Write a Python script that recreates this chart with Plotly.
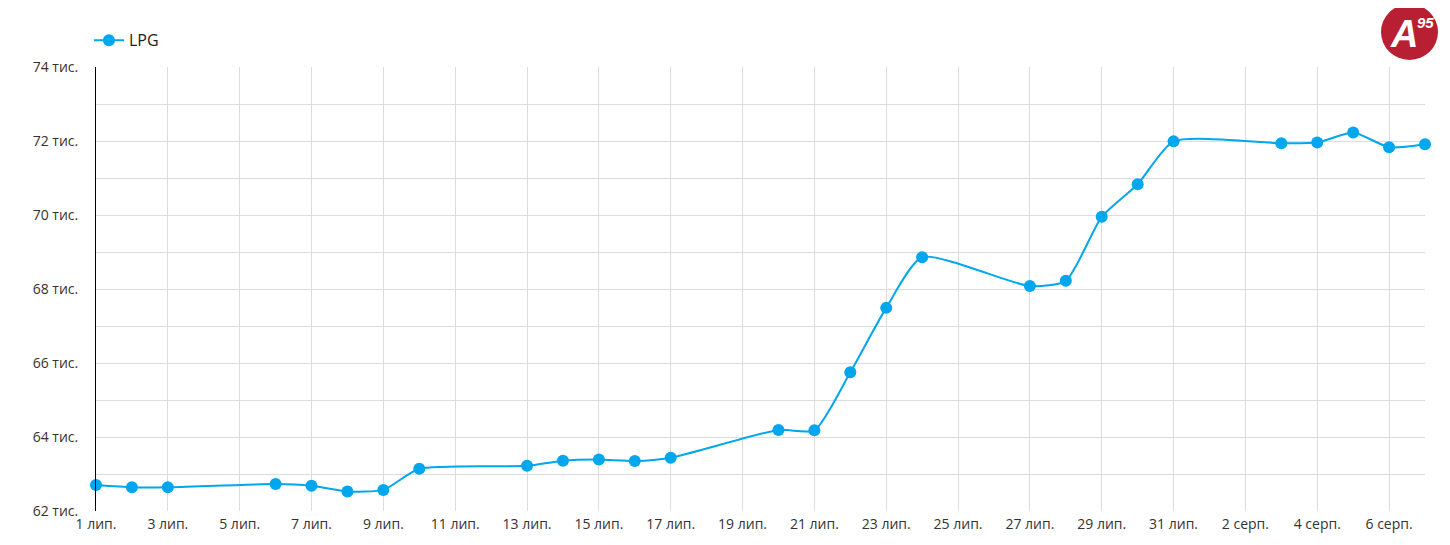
import plotly.graph_objects as go

# LPG price, UAH (daily points, gaps on missing days)
dates = [
    "2024-07-01", "2024-07-02", "2024-07-03", "2024-07-06", "2024-07-07",
    "2024-07-08", "2024-07-09", "2024-07-10", "2024-07-13", "2024-07-14",
    "2024-07-15", "2024-07-16", "2024-07-17", "2024-07-20", "2024-07-21",
    "2024-07-22", "2024-07-23", "2024-07-24", "2024-07-27", "2024-07-28",
    "2024-07-29", "2024-07-30", "2024-07-31", "2024-08-03", "2024-08-04",
    "2024-08-05", "2024-08-06", "2024-08-07",
]
lpg = [
    62700, 62640, 62640, 62730, 62680,
    62530, 62570, 63140, 63220, 63360,
    63390, 63350, 63440, 64190, 64180,
    65750, 67490, 68860, 68080, 68220,
    69950, 70830, 71990, 71940, 71960,
    72230, 71830, 71910,
]

tick_dates = [
    "2024-07-01", "2024-07-03", "2024-07-05", "2024-07-07", "2024-07-09",
    "2024-07-11", "2024-07-13", "2024-07-15", "2024-07-17", "2024-07-19",
    "2024-07-21", "2024-07-23", "2024-07-25", "2024-07-27", "2024-07-29",
    "2024-07-31", "2024-08-02", "2024-08-04", "2024-08-06",
]
tick_text = [
    "1 лип.", "3 лип.", "5 лип.", "7 лип.", "9 лип.", "11 лип.", "13 лип.",
    "15 лип.", "17 лип.", "19 лип.", "21 лип.", "23 лип.", "25 лип.",
    "27 лип.", "29 лип.", "31 лип.", "2 серп.", "4 серп.", "6 серп.",
]
y_ticks = [62000, 64000, 66000, 68000, 70000, 72000, 74000]
y_text = ["62 тис.", "64 тис.", "66 тис.", "68 тис.", "70 тис.", "72 тис.", "74 тис."]

BLUE = "#00a6ee"
GRID = "#dcdcdc"
LOGO_RED = "#b81f33"

fig = go.Figure()
fig.add_trace(
    go.Scatter(
        x=dates,
        y=lpg,
        mode="lines+markers",
        name="LPG",
        line=dict(color=BLUE, width=2, shape="spline", smoothing=0.6),
        marker=dict(color=BLUE, size=12),
        cliponaxis=False,
    )
)

# the page body adds an 8px offset, margins below account for it
fig.update_layout(
    width=1450,
    height=545,
    margin=dict(l=88, r=33, t=59, b=42, autoexpand=False),
    paper_bgcolor="white",
    plot_bgcolor="white",
    font=dict(family="Open Sans, Lato, sans-serif", size=14, color="#333333"),
    showlegend=True,
    legend=dict(
        orientation="h",
        x=-0.0053,
        y=0.972,
        xref="paper",
        yref="container",
        xanchor="left",
        yanchor="top",
        font=dict(size=16, color="#222222"),
    ),
    xaxis=dict(
        type="date",
        range=["2024-07-01", "2024-08-07"],
        tickvals=tick_dates,
        ticktext=tick_text,
        showgrid=True,
        gridcolor=GRID,
        gridwidth=1,
        zeroline=False,
        showline=False,
        ticks="",
        ticklabelstandoff=3,
    ),
    yaxis=dict(
        range=[62000, 74000],
        tickvals=y_ticks,
        ticktext=y_text,
        minor=dict(dtick=1000, showgrid=True, gridcolor=GRID, gridwidth=1),
        showgrid=True,
        gridcolor=GRID,
        gridwidth=1,
        zeroline=False,
        showline=True,
        linecolor="#000000",
        linewidth=1,
        ticks="",
        ticklabelstandoff=14,
    ),
)

# logo badge in the top right corner
fig.add_shape(
    type="circle",
    xref="paper", yref="paper",
    xsizemode="pixel", ysizemode="pixel",
    xanchor=1.0, yanchor=1.0,
    x0=-44, x1=13, y0=7, y1=63,
    fillcolor=LOGO_RED,
    line=dict(width=0),
)
fig.add_annotation(
    xref="paper", yref="paper",
    x=1.0, y=1.0,
    xanchor="center", yanchor="middle",
    xshift=-21, yshift=33,
    text="A",
    showarrow=False,
    font=dict(family="Liberation Sans", size=38, color="white",
              weight="bold", style="italic"),
)
fig.add_annotation(
    xref="paper", yref="paper",
    x=1.0, y=1.0,
    xanchor="center", yanchor="middle",
    xshift=0, yshift=45,
    text="95",
    showarrow=False,
    font=dict(family="Liberation Sans", size=15, color="white",
              weight="bold", style="italic"),
)

fig.write_html("out.html")
